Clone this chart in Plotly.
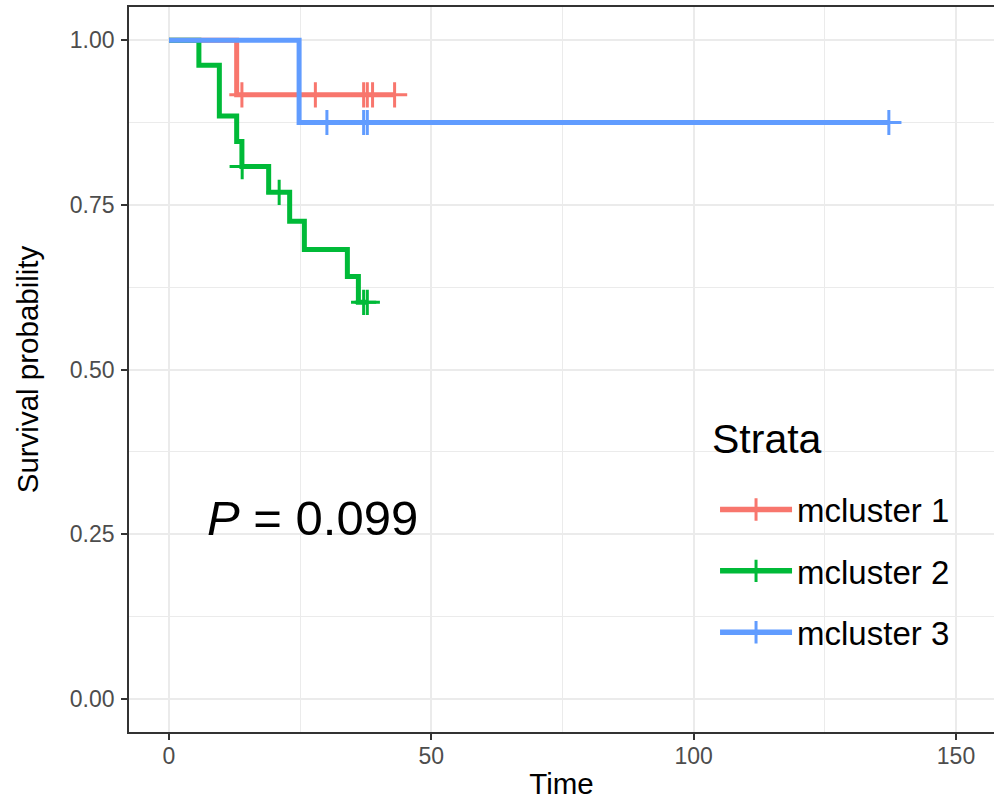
import plotly.graph_objects as go

# ---- data ----
strata = ["mcluster 1", "mcluster 2", "mcluster 3"]
colors = ["#F8766D", "#00BA38", "#619CFF"]

m1_event_t = [12.9]
m1_event_s = [0.917]
m1_censor_t = [13.9, 27.9, 37.1, 37.8, 38.8, 43.0]

m2_event_t = [5.7, 9.6, 12.9, 13.9, 19.0, 23.0, 25.8, 34.0, 36.1]
m2_event_s = [0.962, 0.885, 0.846, 0.808, 0.769, 0.725, 0.682, 0.641, 0.602]
m2_censor_t = [13.95, 21.0, 37.1, 37.8]

m3_event_t = [24.8]
m3_event_s = [0.875]
m3_censor_t = [30.1, 37.1, 37.8, 137.2]

x_ticks = [0, 50, 100, 150]
y_ticks = [0.0, 0.25, 0.5, 0.75, 1.0]
y_ticklabels = ["0.00", "0.25", "0.50", "0.75", "1.00"]
pval_text = "<i>P</i> = 0.099"
legend_title = "Strata"

groups = [
    (m1_event_t, m1_event_s, m1_censor_t),
    (m2_event_t, m2_event_s, m2_censor_t),
    (m3_event_t, m3_event_s, m3_censor_t),
]


def surv_at(t, ev_t, ev_s):
    s = 1.0
    for et, es in zip(ev_t, ev_s):
        if et <= t:
            s = es
    return s


FONT = "Liberation Sans, Arial, Helvetica, sans-serif"
fig = go.Figure()

for name, col, (ev_t, ev_s, cen_t) in zip(strata, colors, groups):
    t_end = max(ev_t + cen_t)
    xs = [0] + list(ev_t) + [t_end]
    ys = [1.0] + list(ev_s) + [surv_at(t_end, ev_t, ev_s)]
    fig.add_trace(go.Scatter(
        x=xs, y=ys, mode="lines", line=dict(color=col, width=5, shape="hv"),
        showlegend=False, legendgroup=name, hoverinfo="skip"))
    fig.add_trace(go.Scatter(
        x=cen_t, y=[surv_at(t, ev_t, ev_s) for t in cen_t], mode="markers",
        marker=dict(symbol="cross-thin", size=18, color=col,
                    line=dict(color=col, width=3)),
        showlegend=False, legendgroup=name))
    # legend entry
    fig.add_trace(go.Scatter(
        x=[None], y=[None], mode="lines+markers", name=name, legendgroup=name,
        line=dict(color=col, width=5.5),
        marker=dict(symbol="cross-thin", size=16, color=col,
                    line=dict(color=col, width=3))))

fig.add_annotation(x=6.9, y=0.274, xref="x", yref="y", text=pval_text,
                   showarrow=False, xanchor="left", yanchor="middle",
                   font=dict(family=FONT, size=49, color="black"))

# legend background and title
fig.add_shape(type="rect", xref="paper", yref="paper",
              x0=0.6486, x1=0.9052, y0=0.0579, y1=0.4717,
              fillcolor="white", line=dict(width=0), layer="between")
fig.add_annotation(x=0.6717, y=0.4041, xref="paper", yref="paper", text=legend_title,
                   showarrow=False, xanchor="left", yanchor="middle",
                   font=dict(family=FONT, size=41, color="black"))

fig.update_layout(
    width=994, height=802,
    margin=dict(l=129, r=0, t=7, b=70, pad=0),
    plot_bgcolor="white", paper_bgcolor="white",
    font=dict(family=FONT, color="black"),
    legend=dict(
        x=0.6775, y=0.3455, xanchor="left", yanchor="top",
        bgcolor="rgba(0,0,0,0)", borderwidth=0,
        font=dict(family=FONT, size=33, color="black"),
        tracegroupgap=15.5, itemwidth=72,
    ),
    xaxis=dict(
        range=[-7.62, 157.24], tickvals=x_ticks, ticktext=[str(v) for v in x_ticks],
        showgrid=True, gridcolor="#EBEBEB", gridwidth=2.2,
        minor=dict(showgrid=True, gridcolor="#EBEBEB", gridwidth=1.1, dtick=25, tick0=0),
        zeroline=False, showline=True, linecolor="#333333", linewidth=1.8, mirror=True,
        ticks="outside", ticklen=6, tickwidth=1.8, tickcolor="#333333",
        tickfont=dict(family=FONT, size=23, color="#4D4D4D"), ticklabelstandoff=-4,
        title=dict(text="Time", font=dict(family=FONT, size=29.5, color="black"), standoff=6),
    ),
    yaxis=dict(
        range=[-0.0503, 1.0503], tickvals=y_ticks, ticktext=y_ticklabels,
        showgrid=True, gridcolor="#EBEBEB", gridwidth=2.2,
        minor=dict(showgrid=True, gridcolor="#EBEBEB", gridwidth=1.1, dtick=0.125, tick0=0),
        zeroline=False, showline=True, linecolor="#333333", linewidth=1.8, mirror=False,
        ticks="outside", ticklen=6, tickwidth=1.8, tickcolor="#333333",
        tickfont=dict(family=FONT, size=23, color="#4D4D4D"), ticklabelstandoff=2,
        title=dict(text="Survival probability", font=dict(family=FONT, size=29.5, color="black"), standoff=22),
    ),
)

fig.write_html("out.html")
